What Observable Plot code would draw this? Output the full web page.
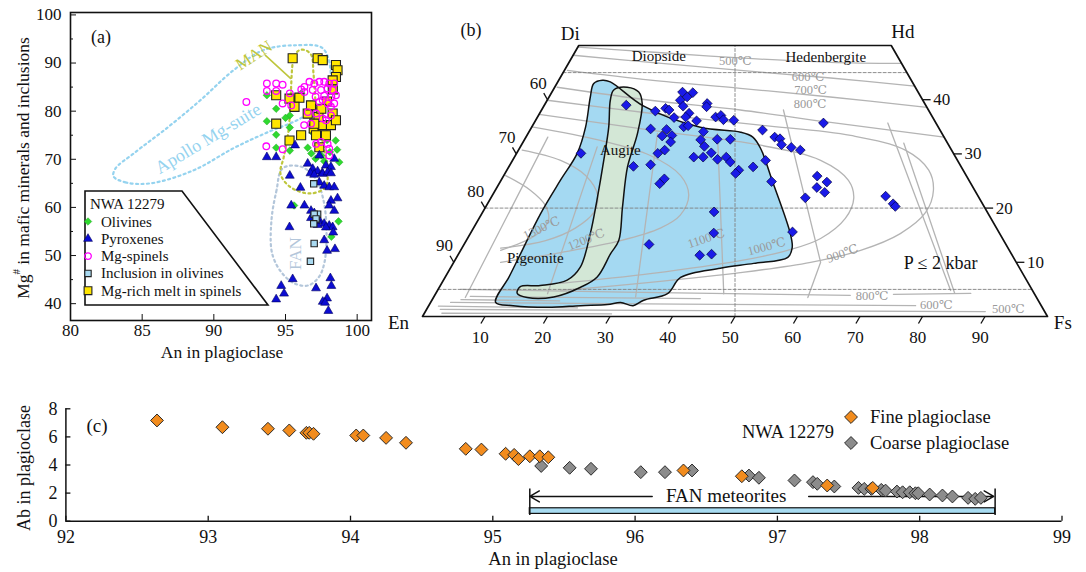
<!DOCTYPE html>
<html><head><meta charset="utf-8">
<script src="https://cdn.jsdelivr.net/npm/d3@7"></script>
<script src="https://cdn.jsdelivr.net/npm/@observablehq/plot@0.6"></script>
<style>
html,body{margin:0;padding:0;background:#fff;}
#root{position:relative;width:1086px;height:572px;overflow:hidden;background:#fff;font-family:'Liberation Serif','DejaVu Serif',serif;}
#root svg{position:absolute;font-family:'Liberation Serif','DejaVu Serif',serif;}
#root svg text{font-family:'Liberation Serif','DejaVu Serif',serif;}
</style></head>
<body><div id="root"></div>
<script>
const FONT = "'Liberation Serif','DejaVu Serif',serif";

// ---------------- Panel (a) data: [An, Mg#] ----------------
const olivines = [[93.7,83.3],[93.7,77.9],[94.35,80.5],[94.35,75.1],[94.35,72.4],[95.3,79.1],[95.3,76.6],[95.3,71.8],[96.1,83.7],[96.7,80.2],[96.55,72.4],[96.8,71.2],[97.1,70.1],[97.5,70.8],[98.5,73.9],[98.6,72.0],[98.75,69.4],[95.6,60.4],[98.7,57.1],[98.2,53.9],[95.6,82.5],[95.0,78.6],[97.3,77.0],[97.9,74.0],[96.9,75.5],[97.7,69.6],[98.1,71.5]];
const pyroxenesA = [[93.7,70.45],[94.35,70.45],[95.67,72.9],[95.3,66.6],[96.04,64.1],[95.4,60.4],[96.32,60.4],[95.28,55.9],[95.5,45.1],[94.7,43.7],[94.9,42.1],[94.35,40.9],[96.55,69.1],[96.9,68.0],[97.24,67.5],[97.55,67.1],[97.82,68.7],[98.17,68.4],[98.4,70.1],[97.36,70.8],[96.74,67.1],[97.0,66.8],[97.6,67.0],[97.94,67.3],[98.17,67.1],[97.36,65.2],[97.7,64.5],[98.05,64.2],[98.4,64.2],[98.63,61.9],[98.17,61.4],[98.05,60.4],[98.4,59.3],[96.78,59.3],[97.01,58.8],[96.78,57.8],[97.36,57.3],[97.7,56.6],[98.05,56.2],[98.29,55.9],[98.33,54.8],[97.24,56.35],[97.82,55.85],[97.7,53.2],[97.9,51.0],[98.45,51.35],[97.13,43.2],[98.13,45.3],[98.2,43.7],[97.9,41.1],[97.6,40.4],[97.76,40.2],[97.99,38.5],[97.25,57.2]];
const spinels = [[93.7,85.75],[93.7,84.2],[94.35,85.75],[94.35,84.2],[94.8,85.5],[94.8,81.6],[95.3,83.7],[95.4,81.2],[96.55,79.8],[97.13,79.5],[96.3,77.1],[93.66,72.7],[94.8,72.1],[92.27,81.9],[96.32,85.05],[96.67,86.1],[97.01,85.75],[97.36,86.1],[97.7,86.1],[98.05,85.75],[98.4,85.75],[96.9,84.4],[97.48,84.4],[97.94,84.7],[98.29,84.4],[98.52,83.3],[97.59,82.3],[97.94,81.6],[98.17,80.9],[97.36,81.9],[98.4,81.6],[97.82,78.1],[98.17,79.1],[97.59,78.5],[97.94,73.2],[98.05,72.2],[98.05,70.8],[97.13,73.2],[96.32,84.0],[97.1,83.0],[97.7,83.2],[98.2,83.0],[96.1,84.5],[96.78,77.4],[97.48,73.6]];
const inclusions = [[96.97,64.9],[97.24,58.6],[97.0,58.6],[97.13,57.6],[96.97,56.6],[97.0,52.5],[96.74,48.8]];
const melts = [[95.5,91.0],[97.24,91.0],[97.6,90.6],[98.52,89.6],[98.63,88.5],[98.52,87.1],[98.29,86.4],[94.35,83.3],[95.28,82.6],[95.97,82.8],[95.63,80.9],[96.55,79.5],[96.78,81.2],[96.09,75.0],[95.28,73.9],[96.97,76.4],[97.13,75.0],[97.36,72.5],[97.82,75.0],[97.59,77.1],[98.17,77.1],[98.29,79.5],[97.3,78.8],[97.01,77.4],[98.52,78.1],[94.35,77.4],[97.9,82.0],[98.3,84.5],[97.5,80.5]];
const apolloLoop = [[83.0,66.45],[83.84,65.2],[85.58,65.0],[88.58,67.7],[91.37,72.3],[93.74,75.6],[96.05,78.5],[97.79,82.3],[98.14,88.5],[97.58,93.1],[95.84,93.7],[93.47,92.7],[91.37,88.5],[89.07,82.3],[86.77,76.6],[84.4,71.2],[83.14,68.1]];
const manLoop = [[95.47,89.2],[95.58,91.4],[95.98,92.66],[96.4,92.66],[96.81,91.6],[96.95,87.9],[97.16,80.2],[97.58,73.9],[97.93,67.7],[97.79,64.2],[96.74,62.9],[95.35,64.2],[94.65,67.0],[94.88,70.5],[95.21,76.0],[95.35,82.3]];
const fanLoop = [[94.79,68.1],[94.37,63.5],[94.02,57.3],[94.07,50.4],[94.77,46.3],[95.7,44.1],[96.6,43.8],[97.32,45.5],[97.72,48.6],[97.86,55.2],[97.65,61.5],[97.09,66.0],[96.05,68.5]];
const manLeader = [[93.6,91.6],[95.35,86.8]];
const apolloLabel = [{text:"Apollo Mg-suite", an:89.6, mg:74.3}];
const manLabel = [{text:"MAN", an:92.79, mg:91.6}];
const fanLabel = [{text:"FAN", an:95.7, mg:50.4}];
const aXTicks = [80,85,90,95,100];
const aYTicks = [40,50,60,70,80,90,100];
const aYMinor = [45,55,65,75,85,95];

// ---------------- Panel (b) data: [Fs, Wo] ----------------
const pyroxenesB = [[13.1,39.0],[10.3,30.1],[20.9,41.4],[22.6,41.3],[22.1,40.5],[21.3,39.9],[22.3,38.8],[25.9,39.3],[26.1,38.7],[18.3,37.9],[19.7,38.4],[20.4,38.1],[23.9,37.5],[21.9,36.7],[23.7,36.8],[28.5,36.8],[29.2,37.1],[30.0,36.3],[31.7,36.2],[25.8,36.1],[24.3,35.0],[24.9,35.2],[19.2,34.6],[21.8,34.5],[27.9,34.1],[21.7,33.3],[23.2,33.4],[23.6,32.2],[28.2,32.6],[30.8,32.7],[32.9,32.7],[29.4,31.4],[23.4,30.7],[22.6,30.1],[31.1,30.2],[28.7,29.4],[30.2,29.4],[32.7,29.0],[33.9,29.4],[35.0,28.5],[19.9,27.7],[22.5,28.0],[37.1,27.0],[36.9,26.4],[39.1,27.6],[26.0,25.4],[25.7,24.5],[37.0,19.3],[38.9,15.4],[29.6,13.3],[38.7,11.3],[40.5,11.5],[46.3,35.7],[37.2,34.4],[39.8,33.1],[40.8,32.8],[41.6,31.7],[43.4,31.2],[45.1,30.7],[40.5,28.8],[43.4,24.9],[50.2,25.9],[52.3,24.8],[51.2,23.8],[52.9,22.9],[50.3,21.9],[63.0,22.2],[64.9,20.8],[65.5,20.3],[51.4,15.6]];
const blueField = [[10.4,2.6],[10.2,7.3],[9.9,11.6],[9.4,19.0],[9.5,25.1],[9.7,30.1],[8.6,35.0],[6.6,40.5],[5.9,43.0],[7.0,43.6],[8.4,43.3],[16.0,38.8],[27.0,34.9],[33.9,34.0],[36.3,33.1],[38.6,31.0],[43.4,25.1],[51.2,15.3],[52.8,12.7],[53.0,10.9],[48.1,9.8],[43.2,8.9],[37.7,7.2],[37.1,4.2],[33.9,3.0],[32.7,2.0],[30.4,2.6],[28.5,2.2],[24.3,2.0],[19.2,1.7],[13.5,2.0]];
const greenField = [[9.7,41.8],[11.6,42.3],[13.9,41.4],[15.5,39.3],[17.5,33.8],[19.0,27.6],[21.9,20.2],[24.4,14.0],[24.3,11.6],[24.3,7.3],[22.6,5.4],[19.2,3.6],[15.0,3.5],[13.0,4.3],[12.9,5.5],[16.0,5.7],[19.8,6.7],[20.7,9.1],[19.2,15.3],[17.2,21.4],[14.6,28.8],[12.3,35.0],[10.1,39.9]];
const iso500 = [[0,49.7],[12.1,48.8],[27.0,47.7],[41.8,46.9],[53.3,46.7]];
const iso600 = [[0,48.2],[13.0,46.9],[28.2,45.4],[43.3,44.0],[57.5,42.5]];
const iso700 = [[0.5,45.4],[14.7,43.6],[29.8,42.1],[45.0,40.5],[61.4,38.6]];
const iso800 = [[0.4,42.3],[16.5,39.9],[31.8,38.1],[47.4,35.8],[66.9,33.1]];
const iso900 = [[0,39.9],[17.7,37.5],[36.4,35.3],[51.8,33.4],[61.9,30.7],[67.5,27.0],[70.1,23.3],[70.9,19.2],[68.8,15.3],[64.0,12.2],[57.1,10.0],[46.8,8.1],[33.3,6.3],[19.7,4.8]];
const iso1000 = [[0,37.3],[19.3,34.4],[38.3,31.6],[49.3,28.8],[55.6,25.1],[58.1,21.8],[58.6,18.1],[56.5,14.4],[52.3,12.2],[45.7,10.3],[32.5,7.9],[19.0,6.1]];
const iso1100 = [[0,35.0],[12.2,32.5],[21.6,29.7],[28.3,26.0],[31.4,22.4],[31.9,18.7],[29.9,16.3],[24.7,14.0],[16.2,11.8],[7.5,10.0]];
const iso1200 = [[0.6,30.7],[7.7,28.8],[13.1,26.0],[16.8,22.4],[17.8,19.2],[16.3,16.3],[12.7,14.0],[6.2,12.6]];
const iso1300 = [[0.3,26.0],[5.6,23.3],[9.4,20.5],[11.3,17.7],[10.6,15.0],[6.4,12.2]];
const low800a = [[3.6,5.0],[30,4.5],[66.5,3.9]];
const low800b = [[73.3,4.1],[85.6,4.25]];
const low600 = [[3.2,2.6],[40,2.3],[77.9,2.0]];
const low500 = [[2.2,1.3],[45,1.1],[89.6,0.9]];
const lowExtra = [[5.8,3.7],[42.8,3.3]];
const lowExtra2 = [[1.6,1.9],[24.0,1.6]];
const lowExtra3 = [[4.6,3.1],[20.5,2.9]];
const lowExtra4 = [[2.8,0.6],[30.0,0.5]];
const tieLines = [
  [[3.5,33.1],[5.1,3.5]],
  [[12.3,31.3],[17.9,4.2]],
  [[20.7,33.8],[32.3,3.6]],
  [[30.3,33.8],[46.1,4.2]],
  [[38.7,38.1],[58.7,10.0],[59.9,3.5]],
  [[56.6,35.7],[82.1,4.8]],
  [[61.0,32.0],[83.0,4.3]]
];
const quad = [[0,0],[100,0],[50,50],[0,50]];
const dashedLines = [[[0,45],[55,45]],[[0,20],[80,20]],[[0,5],[95,5]],[[50,0],[25,50]]];
const bTicks = [10,20,30,40,50,60,70,80,90];
const woTicks = [10,20,30,40];
const cornerLabels = [{text:"En",fs:-3.3,wo:-1.1},{text:"Fs",fs:103.0,wo:-1.1},{text:"Di",fs:-2.4,wo:52.1},{text:"Hd",fs:50.6,wo:52.5}];
const fieldLabels = [{text:"Diopside",fs:13.8,wo:48.0},{text:"Hedenbergite",fs:40.6,wo:47.85},{text:"Augite",fs:16.3,wo:30.7},{text:"Pigeonite",fs:12.7,wo:10.7}];
const pressureLabel = [{text:"P ≤ 2 kbar",fs:78.0,wo:9.8}];
const flatTemps = [{text:"500℃",fs:26.5,wo:47.1},{text:"600℃",fs:39.6,wo:44.2},{text:"700℃",fs:41.2,wo:41.8},{text:"800℃",fs:42.4,wo:39.2},{text:"800℃",fs:70.1,wo:3.7},{text:"600℃",fs:81.1,wo:2.2},{text:"500℃",fs:93.1,wo:1.3}];
const temp1300 = [{text:"1300℃",fs:10.9,wo:16.3}];
const temp1200 = [{text:"1200℃",fs:19.1,wo:14.2}];
const temp1100 = [{text:"1100℃",fs:38.2,wo:14.4}];
const temp1000 = [{text:"1000℃",fs:48.6,wo:12.9}];
const temp900 = [{text:"900℃",fs:61.4,wo:11.6}];

// ---------------- Panel (c) data: [An, Ab] ----------------
const finePlag = [[92.64,7.17],[93.10,6.69],[93.42,6.58],[93.57,6.46],[93.69,6.29],[93.71,6.29],[93.74,6.22],[94.04,6.10],[94.09,6.10],[94.25,5.93],[94.39,5.58],[94.81,5.15],[94.92,5.10],[95.09,4.80],[95.15,4.72],[95.18,4.42],[95.26,4.62],[95.33,4.62],[95.39,4.55],[96.34,3.61],[96.75,3.20],[97.35,2.54],[97.67,2.37]];
const coarsePlag = [[95.34,3.93],[95.54,3.80],[95.69,3.73],[96.04,3.49],[96.21,3.49],[96.40,3.61],[96.80,3.25],[96.87,3.09],[97.12,2.90],[97.25,2.78],[97.28,2.66],[97.40,2.47],[97.57,2.37],[97.61,2.30],[97.66,2.30],[97.73,2.23],[97.76,2.18],[97.84,2.11],[97.88,2.06],[97.93,2.06],[97.97,1.99],[97.99,1.99],[98.07,1.90],[98.16,1.83],[98.23,1.76],[98.34,1.66],[98.39,1.59],[98.43,1.66]];
const fanRange = [95.26, 98.53];
const fanBar = [{an1:95.26, an2:98.53, ab1:0.52, ab2:0.92}];
const fanArrows = [{from:96.12, to:95.26},{from:97.22, to:98.52}];
const fanArrowAb = 1.76;
const fanEndAb = [0.4, 2.3];
const fanText = [{text:"FAN meteorites", an:96.64, ab:1.8}];
const cXTicks = [92,93,94,95,96,97,98,99];
const cYTicks = [0,2,4,6,8];

// ---------------- helpers ----------------
const root = document.getElementById("root");
const TX = (fs, wo) => fs + wo / 2;   // ternary -> horizontal position (0..100)
function put(svg, left, top) { svg.style.left = left + "px"; svg.style.top = top + "px"; root.appendChild(svg); }
const baseStyle = {fontFamily: FONT, fontSize: "17px", color: "#111", background: "transparent", overflow: "visible"};
const intFmt = d => String(d);

// ---------------- Panel (a) ----------------
const loopStyle = {curve: "catmull-rom-closed", strokeWidth: 2.2, strokeDasharray: "2,3.4", strokeLinecap: "round", fill: "none"};
const plotA = Plot.plot({
  width: 380, height: 360, marginLeft: 70, marginRight: 9, marginTop: 12, marginBottom: 40,
  x: {domain: [80, 101]}, y: {domain: [36.5, 100.5]},
  style: baseStyle,
  marks: [
    Plot.line(apolloLoop, {x: d => d[0], y: d => d[1], stroke: "#95d3ef", ...loopStyle}),
    Plot.line(fanLoop, {x: d => d[0], y: d => d[1], stroke: "#b3c6da", ...loopStyle}),
    Plot.line(manLoop, {x: d => d[0], y: d => d[1], stroke: "#bec63c", ...loopStyle}),
    Plot.line(manLeader, {x: d => d[0], y: d => d[1], stroke: "#bec63c", strokeWidth: 1.6}),
    Plot.text(apolloLabel, {x: "an", y: "mg", text: "text", rotate: -31, fill: "#95d3ef", fontSize: 18, fontFamily: FONT}),
    Plot.text(manLabel, {x: "an", y: "mg", text: "text", rotate: -33, fill: "#bec63c", fontSize: 17, fontFamily: FONT}),
    Plot.text(fanLabel, {x: "an", y: "mg", text: "text", rotate: -90, fill: "#b3c6da", fontSize: 17, fontFamily: FONT}),
    Plot.dot(olivines, {x: d => d[0], y: d => d[1], symbol: "diamond2", r: 3.4, fill: "#2fd92f", stroke: "#22a822", strokeWidth: 0.5}),
    Plot.dot(melts, {x: d => d[0], y: d => d[1], symbol: "square", r: 5.1, fill: "#ffe500", stroke: "#222", strokeWidth: 1.1}),
    Plot.dot(pyroxenesA, {x: d => d[0], y: d => d[1], symbol: "triangle", r: 3.3, fill: "#0c0cd2", stroke: "#000060", strokeWidth: 0.6}),
    Plot.dot(inclusions, {x: d => d[0], y: d => d[1], symbol: "square", r: 3.6, fill: "#a9d9f0", stroke: "#222", strokeWidth: 1.1}),
    Plot.dot(spinels, {x: d => d[0], y: d => d[1], symbol: "circle", r: 3.3, fill: "none", stroke: "#ff00ff", strokeWidth: 1.3}),
    Plot.frame({stroke: "#111", strokeWidth: 1.6}),
    Plot.axisX({ticks: aXTicks, tickFormat: intFmt, tickSize: -6, tickPadding: 9.5, label: null, fontSize: 17, fontFamily: FONT}),
    Plot.axisY({ticks: aYTicks, tickFormat: intFmt, tickSize: -6, tickPadding: 15, label: null, fontSize: 17, fontFamily: FONT}),
    Plot.axisY({ticks: aYMinor, tickSize: -3, tickFormat: () => "", label: null})
  ]
});
put(plotA, 0, 0);

// ---------------- Panel (b) ----------------
const isoSets = {iso500, iso600, iso700, iso800, iso900, iso1000, iso1100, iso1200, iso1300};
const isoRows = Object.entries(isoSets).flatMap(([k, pts]) => pts.map(p => ({k, fs: p[0], wo: p[1]})));
const lowSets = {low800a, low800b, low600, low500, lowExtra, lowExtra2, lowExtra3, lowExtra4};
const lowRows = Object.entries(lowSets).flatMap(([k, pts]) => pts.map(p => ({k, fs: p[0], wo: p[1]})));
const tieRows = tieLines.flatMap((pts, i) => pts.map(p => ({k: i, fs: p[0], wo: p[1]})));
const dashRows = dashedLines.flatMap((pts, i) => pts.map(p => ({k: i, fs: p[0], wo: p[1]})));
const px = d => TX(d[0], d[1]), py = d => d[1];
const tempStyle = {fill: "#9a9a9a", fontSize: 12.5, fontFamily: FONT};
const plotB = Plot.plot({
  width: 706, height: 350, marginLeft: 42, marginRight: 39, marginTop: 45, marginBottom: 34,
  x: {domain: [0, 100], axis: null}, y: {domain: [0, 50], axis: null},
  style: baseStyle,
  marks: [
    Plot.line(blueField, {x: px, y: py, curve: "catmull-rom-closed", fill: "#a4d9f2", stroke: "none"}),
    Plot.line(greenField, {x: px, y: py, curve: "catmull-rom-closed", fill: "#d3e7d6", stroke: "none"}),
    Plot.line(isoRows, {x: d => TX(d.fs, d.wo), y: "wo", z: "k", curve: "catmull-rom", stroke: "#b4b4b4", strokeWidth: 1.3}),
    Plot.line(lowRows, {x: d => TX(d.fs, d.wo), y: "wo", z: "k", stroke: "#b4b4b4", strokeWidth: 1.3}),
    Plot.line(tieRows, {x: d => TX(d.fs, d.wo), y: "wo", z: "k", stroke: "#b4b4b4", strokeWidth: 1.3}),
    Plot.line(dashRows, {x: d => TX(d.fs, d.wo), y: "wo", z: "k", stroke: "#808080", strokeWidth: 0.9, strokeDasharray: "3,2"}),
    Plot.line(blueField, {x: px, y: py, curve: "catmull-rom-closed", fill: "none", stroke: "#111", strokeWidth: 1.5}),
    Plot.line(greenField, {x: px, y: py, curve: "catmull-rom-closed", fill: "none", stroke: "#111", strokeWidth: 1.5}),
    Plot.line(quad, {x: px, y: py, curve: "linear-closed", stroke: "#111", strokeWidth: 1.7}),
    Plot.link(bTicks, {x1: f => TX(f, 0), y1: 0, x2: f => TX(f, -1.3), y2: -1.3, stroke: "#111", strokeWidth: 1.3}),
    Plot.link(woTicks, {x1: w => TX(100 - w, w), y1: w => w, x2: w => TX(101.3 - w, w), y2: w => w, stroke: "#111", strokeWidth: 1.3}),
    Plot.link(woTicks, {x1: w => TX(0, w), y1: w => w, x2: w => TX(-1.2, w + 1.2), y2: w => w + 1.2, stroke: "#111", strokeWidth: 1.3}),
    Plot.text(bTicks, {x: f => TX(f + 1.2, -3.9), y: -3.9, text: f => String(f), fontSize: 17, fontFamily: FONT}),
    Plot.text(woTicks, {x: w => TX(101.7 - w, w), y: w => w, text: w => String(w), textAnchor: "start", fontSize: 17, fontFamily: FONT}),
    Plot.text(woTicks, {x: w => TX(-3, w + 3), y: w => w + 3, text: w => String(100 - w), fontSize: 17, fontFamily: FONT}),
    Plot.text(flatTemps, {x: d => TX(d.fs, d.wo), y: "wo", text: "text", ...tempStyle}),
    Plot.text(temp1300, {x: d => TX(d.fs, d.wo), y: "wo", text: "text", rotate: -25, ...tempStyle}),
    Plot.text(temp1200, {x: d => TX(d.fs, d.wo), y: "wo", text: "text", rotate: -22, ...tempStyle}),
    Plot.text(temp1100, {x: d => TX(d.fs, d.wo), y: "wo", text: "text", rotate: -18, ...tempStyle}),
    Plot.text(temp1000, {x: d => TX(d.fs, d.wo), y: "wo", text: "text", rotate: -15, ...tempStyle}),
    Plot.text(temp900, {x: d => TX(d.fs, d.wo), y: "wo", text: "text", rotate: -20, ...tempStyle}),
    Plot.dot(pyroxenesB, {x: px, y: py, symbol: "diamond2", r: 4.4, fill: "#1a1ae8", stroke: "#000040", strokeWidth: 0.7}),
    Plot.text(cornerLabels, {x: d => TX(d.fs, d.wo), y: "wo", text: "text", fontSize: 19, fontFamily: FONT}),
    Plot.text(fieldLabels, {x: d => TX(d.fs, d.wo), y: "wo", text: "text", fontSize: 15, fontFamily: FONT}),
    Plot.text(pressureLabel, {x: d => TX(d.fs, d.wo), y: "wo", text: "text", fontSize: 18, fontFamily: FONT})
  ]
});
put(plotB, 380, 0);

// ---------------- Panel (c) ----------------
const plotC = Plot.plot({
  width: 1086, height: 192, marginLeft: 65.4, marginRight: 24.5, marginTop: 28.3, marginBottom: 51.3,
  x: {domain: [92, 99]}, y: {domain: [0, 8]},
  style: {...baseStyle, fontSize: "18px"},
  marks: [
    Plot.rect(fanBar, {x1: "an1", x2: "an2", y1: "ab1", y2: "ab2", fill: "#a8dcf2", stroke: "#111", strokeWidth: 1.2}),
    Plot.ruleX(fanRange, {y1: fanEndAb[0], y2: fanEndAb[1], stroke: "#111", strokeWidth: 1.5}),
    Plot.arrow(fanArrows, {x1: "from", x2: "to", y1: fanArrowAb, y2: fanArrowAb, stroke: "#111", strokeWidth: 1.5, headLength: 11}),
    Plot.text(fanText, {x: "an", y: "ab", text: "text", fontSize: 19, fontFamily: FONT}),
    Plot.ruleY([0], {stroke: "#111", strokeWidth: 1.5}),
    Plot.ruleX([92], {y1: 0, y2: 8, stroke: "#111", strokeWidth: 1.5}),
    Plot.axisX({ticks: cXTicks, tickFormat: intFmt, tickSize: -5, tickPadding: 14, label: null, fontSize: 18, fontFamily: FONT, strokeWidth: 1.3}),
    Plot.axisY({ticks: cYTicks, tickFormat: intFmt, tickSize: -5, tickPadding: 13.5, label: null, fontSize: 18, fontFamily: FONT, strokeWidth: 1.3}),
    Plot.dot(coarsePlag, {x: d => d[0], y: d => d[1], symbol: "diamond2", r: 5.8, fill: "#8c8c8c", stroke: "#2a2a2a", strokeWidth: 1}),
    Plot.dot(finePlag, {x: d => d[0], y: d => d[1], symbol: "diamond2", r: 5.8, fill: "#f28c1e", stroke: "#2a2a2a", strokeWidth: 1})
  ]
});
put(plotC, 0, 380);

// ---------------- Overlay: titles, panel letters, legends ----------------
const ov = d3.create("svg").attr("width", 1086).attr("height", 572)
  .style("left", "0px").style("top", "0px").style("pointer-events", "none")
  .style("font-family", FONT).attr("fill", "#111");
function txt(s, x, y, size, opts = {}) {
  const t = ov.append("text").attr("x", x).attr("y", y).attr("font-size", size)
    .style("font-family", FONT)
    .attr("text-anchor", opts.anchor || "middle").attr("dominant-baseline", "central");
  if (opts.rotate) t.attr("transform", `rotate(${opts.rotate},${x},${y})`);
  t.text(s);
  return t;
}
const sym = (type, r) => d3.symbol().type(type).size(Math.PI * r * r)();

txt("(a)", 101, 37, 18);
txt("(b)", 471, 30, 18);
txt("(c)", 97, 425, 19);

// y title of (a) with superscript
const ya = ov.append("text").attr("transform", "translate(23,168) rotate(-90)").attr("font-size", 17.5)
  .style("font-family", FONT).attr("text-anchor", "middle").attr("dominant-baseline", "central");
ya.append("tspan").text("Mg");
ya.append("tspan").attr("font-size", 11).attr("dy", -7).text("#");
ya.append("tspan").attr("dy", 7).text(" in mafic minerals and inclusions");
txt("An in plagioclase", 222, 352, 17.5);
txt("Ab in plagioclase", 24, 468, 18, {rotate: -90});
txt("An in plagioclase", 553, 559, 18.5);

// legend of (a)
ov.append("path").attr("d", "M85,191H182L268,305H85Z").attr("fill", "#fff").attr("stroke", "#111").attr("stroke-width", 1.6);
txt("NWA 12279", 90, 204, 15, {anchor: "start"});
const legA = [
  {label: "Olivines", type: d3.symbolDiamond2, r: 3.4, fill: "#2fd92f", stroke: "#22a822", sw: 0.5},
  {label: "Pyroxenes", type: d3.symbolTriangle, r: 3.3, fill: "#0c0cd2", stroke: "#000060", sw: 0.6},
  {label: "Mg-spinels", type: d3.symbolCircle, r: 3.3, fill: "none", stroke: "#ff00ff", sw: 1.3},
  {label: "Inclusion in olivines", type: d3.symbolSquare, r: 3.6, fill: "#a9d9f0", stroke: "#222", sw: 1.1},
  {label: "Mg-rich melt in spinels", type: d3.symbolSquare, r: 4.4, fill: "#ffe500", stroke: "#222", sw: 1.1}
];
legA.forEach((e, i) => {
  const y = 221.5 + i * 17.3;
  ov.append("path").attr("d", sym(e.type, e.r)).attr("transform", `translate(88,${y})`)
    .attr("fill", e.fill).attr("stroke", e.stroke).attr("stroke-width", e.sw);
  txt(e.label, 101, y, 15, {anchor: "start"});
});

// legend of (c)
txt("NWA 12279", 834, 432, 18.5, {anchor: "end"});
[{label: "Fine plagioclase", fill: "#f28c1e", y: 417}, {label: "Coarse plagioclase", fill: "#8c8c8c", y: 443}].forEach(e => {
  ov.append("path").attr("d", sym(d3.symbolDiamond2, 5.8)).attr("transform", `translate(851,${e.y})`)
    .attr("fill", e.fill).attr("stroke", "#2a2a2a").attr("stroke-width", 1);
  txt(e.label, 870, e.y, 18.5, {anchor: "start"});
});
root.appendChild(ov.node());
</script>
</body></html>
